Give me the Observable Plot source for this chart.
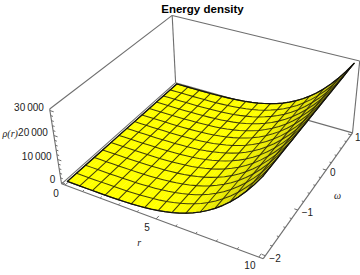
<!DOCTYPE html>
<html>
<head>
<meta charset="utf-8">
<script src="https://cdn.jsdelivr.net/npm/d3@7"></script>
<script src="https://cdn.jsdelivr.net/npm/@observablehq/plot@0.6"></script>
<style>
html,body{margin:0;padding:0;background:#fff}
svg{display:block}
</style>
</head>
<body>
<div id="chart"></div>
<script>
// ---- data ----
const rValues = [0,0.357,0.714,1.071,1.429,1.786,2.143,2.5,2.857,3.214,3.571,3.929,4.286,4.643,5,5.357,5.714,6.071,6.429,6.786,7.143,7.5,7.857,8.214,8.571,8.929,9.286,9.643,10];
const rhoAlongR = [0,0,0,0,10,30,60,120,200,320,490,720,1010,1390,1880,2470,3200,4080,5120,6360,7810,9490,11430,13660,16190,19060,22300,25940,30000];
const omegaValues = [-2,-1.786,-1.571,-1.357,-1.143,-0.929,-0.714,-0.5,-0.286,-0.071,0.143,0.357,0.571,0.786,1];
const rMajor = [0,5,10];
const rMinor = [1,2,3,4,6,7,8,9];
const omegaMajor = [-2,-1,0,1];
const omegaMinor = [-1.8,-1.6,-1.4,-1.2,-0.8,-0.6,-0.4,-0.2,0.2,0.4,0.6,0.8];
const rhoMajor = [0,10000,20000,30000];
const rhoMinor = [2000,4000,6000,8000,12000,14000,16000,18000,22000,24000,26000,28000];
const rhoLabels = ["0","10\u2009000","20\u2009000","30\u2009000"];
const omegaLabels = ["\u22122","\u22121","0","1"];

// ---- box (2% padded) and camera ----
const rBox = [-0.2,10.2], omegaBox = [-2.06,1.06], rhoBox = [-600,30600];
const camAnchors = [
  [0,0,0,61,183],[1,0,0,263,258],[0,1,0,175,82],[1,1,0,352,133],
  [0,0,1,49,109],[0,1,1,172,15],[1,1,1,359,60]
];
function solveCamera(anchors){
  const A=[],b=[];
  for(const [X,Y,Z,sx,sy] of anchors){
    A.push([X,Y,Z,1,0,0,0,0,-sx*X,-sx*Y,-sx*Z]); b.push(sx);
    A.push([0,0,0,0,X,Y,Z,1,-sy*X,-sy*Y,-sy*Z]); b.push(sy);
  }
  const n=11, M=[];
  for(let i=0;i<n;i++){
    const row=[];
    for(let j=0;j<n;j++) row.push(d3.sum(A,a=>a[i]*a[j]));
    row.push(d3.sum(A,(a,k)=>a[i]*b[k]));
    M.push(row);
  }
  for(let i=0;i<n;i++){
    let p=i; for(let k=i+1;k<n;k++) if(Math.abs(M[k][i])>Math.abs(M[p][i])) p=k;
    [M[i],M[p]]=[M[p],M[i]];
    for(let k=0;k<n;k++){ if(k===i) continue;
      const f=M[k][i]/M[i][i];
      for(let j=i;j<=n;j++) M[k][j]-=f*M[i][j];
    }
  }
  return M.map((r,i)=>r[n]/r[i]);
}
const P = solveCamera(camAnchors);
const unit = (v,[a,b])=>(v-a)/(b-a);
function project(r,om,rho){
  const X=unit(r,rBox),Y=unit(om,omegaBox),Z=unit(rho,rhoBox);
  const w=P[8]*X+P[9]*Y+P[10]*Z+1;
  return {x:(P[0]*X+P[1]*Y+P[2]*Z+P[3])/w, y:(P[4]*X+P[5]*Y+P[6]*Z+P[7])/w, w};
}
const [r0,r1]=rBox,[o0,o1]=omegaBox,[z0,z1]=rhoBox;

// ---- box edges ----
function seg(a,b){const p=project(...a),q=project(...b);return {x1:p.x,y1:p.y,x2:q.x,y2:q.y};}
const edges=[
  [[r0,o1,z0],[r0,o1,z1]],[[r0,o0,z1],[r0,o1,z1]],[[r0,o1,z1],[r1,o1,z1]],
  [[r1,o1,z0],[r1,o1,z1]],[[r0,o0,z0],[r0,o1,z0]],[[r0,o1,z0],[r1,o1,z0]],
  [[r0,o0,z0],[r0,o0,z1]],[[r0,o0,z0],[r1,o0,z0]],[[r1,o0,z0],[r1,o1,z0]]
].map(([a,b])=>seg(a,b));

// ---- ticks ----
const ticks=[];
const rT=(r,k)=>seg([r,o0,z0],[r,o0+k*(o1-o0),z0]);
const oT=(o,k)=>seg([r1,o,z0],[r1-k*(r1-r0),o,z0]);
const zT=(z,k)=>seg([r0,o0,z],[r0+k*(r1-r0),o0,z]);
rMajor.forEach(v=>ticks.push(rT(v,0.022))); rMinor.forEach(v=>ticks.push(rT(v,0.012)));
omegaMajor.forEach(v=>ticks.push(oT(v,0.016))); omegaMinor.forEach(v=>ticks.push(oT(v,0.009)));
rhoMajor.forEach(v=>ticks.push(zT(v,0.02))); rhoMinor.forEach(v=>ticks.push(zT(v,0.012)));

// ---- surface: fill patches, then mesh lines, then rim ----
const shade=d3.interpolateRgb("#ffff00","#8a8a1a");
const patches=[];
for(let i=0;i<rValues.length-1;i++){
  const s=((rhoAlongR[i+1]-rhoAlongR[i])/(z1-z0))/((rValues[i+1]-rValues[i])/(r1-r0));
  const t=Math.pow(1-1/Math.sqrt(1+s*s),2.5);
  const col=shade(t);
  for(let j=0;j<omegaValues.length-1;j++){
    const id=i+"_"+j;
    for(const [a,b] of [[i,j],[i+1,j],[i+1,j+1],[i,j+1],[i,j]]){
      const p=project(rValues[a],omegaValues[b],rhoAlongR[a]);
      patches.push({id,x:p.x,y:p.y,col});
    }
  }
}
const mesh=[];
omegaValues.forEach((o,j)=>rValues.forEach((r,i)=>{
  const p=project(r,o,rhoAlongR[i]); mesh.push({id:"w"+j,x:p.x,y:p.y});
}));
rValues.forEach((r,i)=>{ if(i%2===0) omegaValues.forEach(o=>{
  const p=project(r,o,rhoAlongR[i]); mesh.push({id:"r"+i,x:p.x,y:p.y});
});});
const last=rValues.length-1, lastO=omegaValues.length-1;
const rim=[];
rValues.forEach((r,i)=>{const p=project(r,omegaValues[0],rhoAlongR[i]);rim.push({x:p.x,y:p.y});});
omegaValues.forEach(o=>{const p=project(rValues[last],o,rhoAlongR[last]);rim.push({x:p.x,y:p.y});});
for(let i=last;i>=0;i--){const p=project(rValues[i],omegaValues[lastO],rhoAlongR[i]);rim.push({x:p.x,y:p.y});}
for(let j=lastO;j>=0;j--){const p=project(rValues[0],omegaValues[j],rhoAlongR[0]);rim.push({x:p.x,y:p.y});}

// ---- labels ----
const labelFont={fontFamily:"Liberation Sans, Arial, sans-serif",fontSize:10,fill:"#222"};
const serif={fontStyle:"italic",fontFamily:"Liberation Serif, serif",fontSize:10,fill:"#222"};
const zLab=rhoMajor.map((v,i)=>({...project(r0,o0,v),t:rhoLabels[i]}));
const rLab=rMajor.map(v=>({...project(v,o0,z0),t:String(v)}));
const oLab=omegaMajor.map((v,i)=>({...project(r1,v,z0),t:omegaLabels[i]}));
const zTitle=[{...project(r0,o0,20000),t:"\u03c1(r)"}];
const rTitle=[{...project(5,o0,z0),t:"r"}];
const oTitle=[{...project(r1,-0.5,z0),t:"\u03c9"}];

const chart=Plot.plot({
  width:360,height:275,margin:0,
  x:{axis:null,domain:[0,360],range:[0,360]},
  y:{axis:null,domain:[0,275],range:[0,275]},
  color:{type:"identity"},
  style:{background:"#fff"},
  marks:[
    Plot.link(edges,{x1:"x1",y1:"y1",x2:"x2",y2:"y2",stroke:"#6e6e6e",strokeWidth:1.1}),
    Plot.line(patches,{x:"x",y:"y",z:"id",fill:"col",stroke:"col",strokeWidth:0.4,curve:"linear"}),
    Plot.line(mesh,{x:"x",y:"y",z:"id",stroke:"#2e2a08",strokeWidth:1.05,curve:"linear",strokeOpacity:0.9}),
    Plot.line(rim,{x:"x",y:"y",stroke:"#111",strokeWidth:1.2,curve:"linear",strokeLinejoin:"round"}),
    Plot.link(ticks,{x1:"x1",y1:"y1",x2:"x2",y2:"y2",stroke:"#6e6e6e",strokeWidth:1}),
    Plot.text(zLab,{x:"x",y:"y",text:"t",textAnchor:"end",dx:-6,dy:-3,...labelFont}),
    Plot.text(rLab,{x:"x",y:"y",text:"t",dx:-9,dy:9,...labelFont}),
    Plot.text(oLab,{x:"x",y:"y",text:"t",textAnchor:"start",dx:4,dy:3,...labelFont}),
    Plot.text(zTitle,{x:"x",y:"y",text:"t",textAnchor:"end",dx:-36,dy:-2,...serif}),
    Plot.text(rTitle,{x:"x",y:"y",text:"t",dx:-17,dy:24,...serif}),
    Plot.text(oTitle,{x:"x",y:"y",text:"t",dx:25,dy:6,...serif}),
    Plot.text(["Energy density"],{frameAnchor:"top",dx:22,dy:4,fontFamily:"Liberation Sans, Arial, sans-serif",fontWeight:"bold",fontSize:11.5,fill:"#000"})
  ]
});
document.getElementById("chart").append(chart);
</script>
</body>
</html>
